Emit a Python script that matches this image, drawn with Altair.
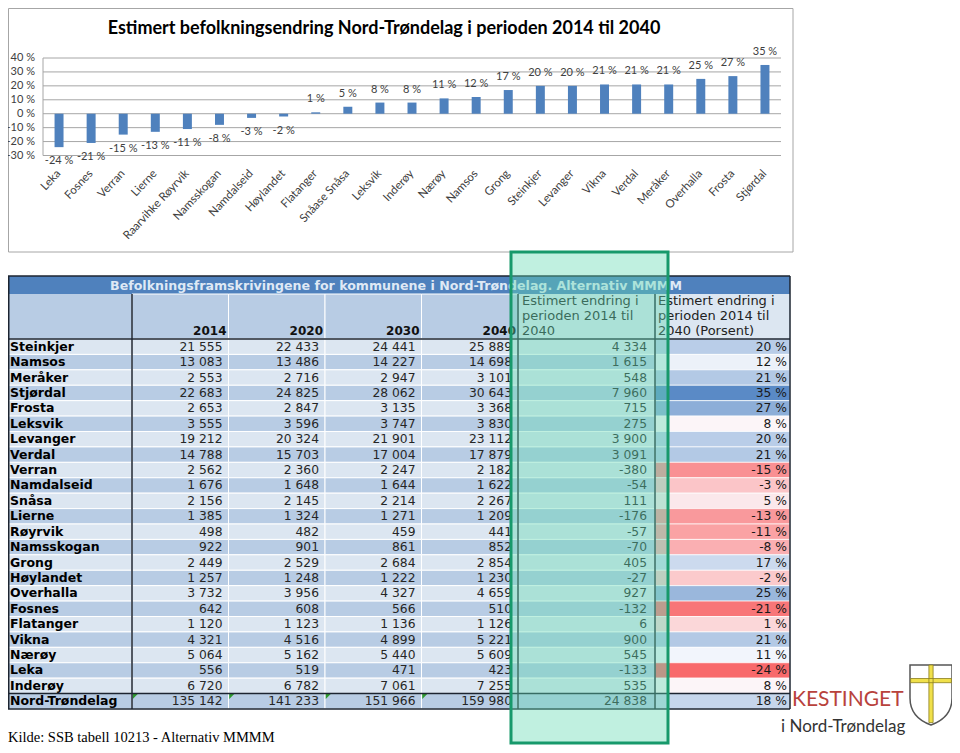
import altair as alt
import pandas as pd

# ---------------- data: bar chart ----------------
bar_kommuner = ["Leka", "Fosnes", "Verran", "Lierne", "Raarvihke Røyrvik", "Namsskogan",
                "Namdalseid", "Høylandet", "Flatanger", "Snåase Snåsa", "Leksvik", "Inderøy",
                "Nærøy", "Namsos", "Grong", "Steinkjer", "Levanger", "Vikna", "Verdal",
                "Meråker", "Overhalla", "Frosta", "Stjørdal"]
bar_pct = [-24, -21, -15, -13, -11, -8, -3, -2, 1, 5, 8, 8, 11, 12, 17, 20, 20, 21, 21, 21, 25, 27, 35]
y_ticks = [40, 30, 20, 10, 0, -10, -20, -30]

# ---------------- data: table ----------------
rows = ["Steinkjer", "Namsos", "Meråker", "Stjørdal", "Frosta", "Leksvik", "Levanger", "Verdal",
        "Verran", "Namdalseid", "Snåsa", "Lierne", "Røyrvik", "Namsskogan", "Grong", "Høylandet",
        "Overhalla", "Fosnes", "Flatanger", "Vikna", "Nærøy", "Leka", "Inderøy", "Nord-Trøndelag"]
years = ["2014", "2020", "2030", "2040"]
pop2014 = [21555, 13083, 2553, 22683, 2653, 3555, 19212, 14788, 2562, 1676, 2156, 1385, 498, 922,
           2449, 1257, 3732, 642, 1120, 4321, 5064, 556, 6720, 135142]
pop2020 = [22433, 13486, 2716, 24825, 2847, 3596, 20324, 15703, 2360, 1648, 2145, 1324, 482, 901,
           2529, 1248, 3956, 608, 1123, 4516, 5162, 519, 6782, 141233]
pop2030 = [24441, 14227, 2947, 28062, 3135, 3747, 21901, 17004, 2247, 1644, 2214, 1271, 459, 861,
           2684, 1222, 4327, 566, 1136, 4899, 5440, 471, 7061, 151966]
pop2040 = [25889, 14698, 3101, 30643, 3368, 3830, 23112, 17879, 2182, 1622, 2267, 1209, 441, 852,
           2854, 1230, 4659, 510, 1126, 5221, 5609, 423, 7255, 159980]
change = [4334, 1615, 548, 7960, 715, 275, 3900, 3091, -380, -54, 111, -176, -57, -70, 405, -27,
          927, -132, 6, 900, 545, -133, 535, 24838]
pct = [20, 12, 21, 35, 27, 8, 20, 21, -15, -3, 5, -13, -11, -8, 17, -2, 25, -21, 1, 21, 11, -24, 8, 18]

# ---------------- texts ----------------
title_chart = "Estimert befolkningsendring Nord-Trøndelag i perioden 2014 til 2040"
title_table = "Befolkningsframskrivingene for kommunene i Nord-Trøndelag. Alternativ MMMM"
header_change = "Estimert endring i\nperioden 2014 til\n2040"
header_pct = "Estimert endring i\nperioden 2014 til\n2040 (Porsent)"
source_text = "Kilde:  SSB tabell 10213 - Alternativ MMMM"
logo_1 = "KESTINGET"
logo_2 = "i Nord-Trøndelag"

# ---------------- styling / layout ----------------
W, H = 944, 737
CAL = "Lato, Liberation Sans, sans-serif"
TAB = "DejaVu Sans, Verdana, sans-serif"
SERIF = "Liberation Serif, Times New Roman, serif"
DARK = "#1c2430"
HALF_BAND = 48.25  # half width of a year column


def fmt(v):
    return f"{v:,}".replace(",", " ")


one = pd.DataFrame({"k": [0]})

# ---------- bar chart ----------
bar_df = pd.DataFrame({"kommune": bar_kommuner, "pct": bar_pct})
bar_df["lbl"] = [f"{v} %" for v in bar_pct]
tick_df = pd.DataFrame({"v": y_ticks, "lbl": [f"{v} %" for v in y_ticks]})

xb = alt.Scale(domain=bar_kommuner, range=[35, 773], paddingInner=0.72, paddingOuter=0.36)
yb = alt.Scale(domain=[-30, 40], range=[147.5, 50], nice=False, zero=False)
X_B = alt.X("kommune:N", scale=xb, axis=None)
Y_B = alt.Y("pct:Q", scale=yb, axis=None)

frame = alt.Chart(one).mark_rect(fill="white", stroke="#a6a6a6", strokeWidth=1).encode(
    x=alt.value(0.5), x2=alt.value(785), y=alt.value(0.5), y2=alt.value(244))

title = alt.Chart(one).mark_text(font=CAL, fontSize=18, fontWeight="bold", color="black",
                                 align="center", baseline="middle").encode(
    x=alt.value(376), y=alt.value(21), text=alt.value(title_chart))

grid = alt.Chart(tick_df).mark_rule(color="#a6a6a6", strokeWidth=1).encode(
    y=alt.Y("v:Q", scale=yb, axis=None), x=alt.value(35), x2=alt.value(773))

axis_line = alt.Chart(pd.DataFrame({"a": [40], "b": [-30]})).mark_rule(color="#a6a6a6").encode(
    x=alt.value(35), y=alt.Y("a:Q", scale=yb, axis=None), y2="b:Q")

ylabels = alt.Chart(tick_df).mark_text(font=CAL, fontSize=11, color="#404040", align="right",
                                       baseline="middle").encode(
    y=alt.Y("v:Q", scale=yb, axis=None), x=alt.value(27), text="lbl:N")

bars = alt.Chart(bar_df).mark_bar(color="#4f81bd").encode(x=X_B, y=Y_B)

pos_lbl = alt.Chart(bar_df).transform_filter("datum.pct > 0").mark_text(
    font=CAL, fontSize=11, color="#404040", baseline="middle", dy=-13).encode(
    x=X_B, y=Y_B, text="lbl:N")
neg_lbl = alt.Chart(bar_df).transform_filter("datum.pct < 0").mark_text(
    font=CAL, fontSize=11, color="#404040", baseline="middle", dy=14).encode(
    x=X_B, y=Y_B, text="lbl:N")

xlabels = alt.Chart(bar_df).mark_text(font=CAL, fontSize=11.5, color="#404040", align="right",
                                      baseline="middle", angle=313).encode(
    x=X_B, y=alt.value(164), text="kommune:N")

# ---------- table ----------
n = len(rows)
tab = pd.DataFrame({"row": rows, "p": pct})
tab["parity"] = ["a" if i % 2 == 0 else "b" for i in range(n)]
tab["plbl"] = [f"{v} %" for v in pct]
tab["clbl"] = [fmt(v) for v in change]

long_rows = []
for i, r in enumerate(rows):
    for y, vals in zip(years, [pop2014, pop2020, pop2030, pop2040]):
        long_rows.append({"row": r, "year": y, "val": fmt(vals[i]),
                          "parity": "a" if i % 2 == 0 else "b"})
long = pd.DataFrame(long_rows)
year_df = pd.DataFrame({"year": years})

row_scale = alt.Scale(domain=rows, range=[331, 701], paddingInner=0, paddingOuter=0)
year_scale = alt.Scale(domain=years, range=[124, 510], paddingInner=0, paddingOuter=0)
YR = alt.Y("row:N", scale=row_scale, axis=None)
XY = alt.X("year:N", scale=year_scale, axis=None)
PAR = alt.Fill("parity:N", scale=alt.Scale(domain=["a", "b"], range=["#dce6f1", "#b8cce4"]), legend=None)

tbl_title_band = alt.Chart(one).mark_rect(fill="#4f81bd").encode(
    x=alt.value(0), x2=alt.value(782), y=alt.value(268), y2=alt.value(286))
tbl_title = alt.Chart(one).mark_text(font=TAB, fontSize=12.6, fontWeight="bold", color="#dfe9f5",
                                     align="center", baseline="middle").encode(
    x=alt.value(388), y=alt.value(277.5), text=alt.value(title_table))

hdr_name = alt.Chart(one).mark_rect(fill="#b8cce4").encode(
    x=alt.value(0), x2=alt.value(124), y=alt.value(286), y2=alt.value(331))
hdr_years = alt.Chart(year_df).mark_rect(fill="#b8cce4", stroke="white", strokeWidth=1).encode(
    x=XY, y=alt.value(286), y2=alt.value(331))
hdr_change = alt.Chart(one).mark_rect(fill="#dce6f1").encode(
    x=alt.value(510), x2=alt.value(647), y=alt.value(286), y2=alt.value(331))
hdr_pct = alt.Chart(one).mark_rect(fill="#dce6f1").encode(
    x=alt.value(647), x2=alt.value(782), y=alt.value(286), y2=alt.value(331))
hdr_year_txt = alt.Chart(year_df).mark_text(font=TAB, fontSize=12, fontWeight="bold", color="#111111",
                                            align="right", baseline="alphabetic",
                                            dx=HALF_BAND - 2).encode(
    x=XY, y=alt.value(327), text="year:N")
hdr_change_txt = alt.Chart(one).mark_text(font=TAB, fontSize=13, color="#222222", align="left",
                                          baseline="top", lineBreak="\n", lineHeight=15.3).encode(
    x=alt.value(514), y=alt.value(286.5), text=alt.value(header_change))
hdr_pct_txt = alt.Chart(one).mark_text(font=TAB, fontSize=13, color="#222222", align="left",
                                       baseline="top", lineBreak="\n", lineHeight=15.3).encode(
    x=alt.value(650), y=alt.value(286.5), text=alt.value(header_pct))

name_cells = alt.Chart(tab).mark_rect(stroke="white", strokeWidth=1).encode(
    x=alt.value(0), x2=alt.value(124), y=YR, fill=PAR)
name_txt = alt.Chart(tab).mark_text(font=TAB, fontSize=12.5, fontWeight="bold", color="black",
                                    align="left", baseline="middle").encode(
    x=alt.value(2), y=YR, text="row:N")

year_cells = alt.Chart(long).mark_rect(stroke="white", strokeWidth=1).encode(x=XY, y=YR, fill=PAR)
year_txt = alt.Chart(long).mark_text(font=TAB, fontSize=12.3, color="#262626", align="right",
                                     baseline="middle", dx=HALF_BAND - 6).encode(
    x=XY, y=YR, text="val:N")

# small green Excel error-indicator triangles in the total row (pixel-sized custom path)
nt_marks = alt.Chart(long).transform_filter(alt.datum.row == "Nord-Trøndelag").mark_point(
    shape="M -47.5 -7.2 L -42.5 -7.2 L -47.5 -2.2 Z", size=4, filled=True, color="#2e9a2e",
    opacity=1).encode(x=XY, y=YR)

change_cells = alt.Chart(tab).mark_rect(stroke="white", strokeWidth=1).encode(
    x=alt.value(510), x2=alt.value(647), y=YR, fill=PAR)
change_txt = alt.Chart(tab).mark_text(font=TAB, fontSize=12.3, color="#262626", align="right",
                                      baseline="middle").encode(
    x=alt.value(639), y=YR, text="clbl:N")

pct_cells = alt.Chart(tab).mark_rect(stroke="white", strokeWidth=0.7).encode(
    x=alt.value(647), x2=alt.value(782), y=YR,
    fill=alt.Fill("p:Q", scale=alt.Scale(domain=[-24, 9.5, 35], interpolate="rgb",
                                         range=["#f8696b", "#fcfcff", "#5a8ac6"]), legend=None))
pct_txt = alt.Chart(tab).mark_text(font=TAB, fontSize=12.3, color="#1a1a1a", align="right",
                                   baseline="middle").encode(
    x=alt.value(779), y=YR, text="plbl:N")


def hline(y, x0, x1, w=1.5):
    return alt.Chart(one).mark_rule(color=DARK, strokeWidth=w).encode(
        y=alt.value(y), x=alt.value(x0), x2=alt.value(x1))


def vline(x, y0, y1, w=1.5):
    return alt.Chart(one).mark_rule(color=DARK, strokeWidth=w).encode(
        x=alt.value(x), y=alt.value(y0), y2=alt.value(y1))


lines = [
    hline(268, 0, 782), hline(331, 0, 782), hline(685.6, 0, 782), hline(701, 0, 782),
    vline(0.75, 268, 701), vline(124, 286, 701), vline(510, 286, 701), vline(647, 286, 701),
    vline(782, 268, 701),
]

overlay = alt.Chart(one).mark_rect(fill="#61d9b1", fillOpacity=0.4, stroke="#17996b",
                                   strokeWidth=3).encode(
    x=alt.value(503), x2=alt.value(660), y=alt.value(244), y2=alt.value(735))

source = alt.Chart(one).mark_text(font=SERIF, fontSize=14.5, color="black", align="left",
                                  baseline="middle").encode(
    x=alt.value(0), y=alt.value(730), text=alt.value(source_text))

logo_a = alt.Chart(one).mark_text(font=CAL, fontSize=21, color="#b8423c", align="left",
                                  baseline="alphabetic").encode(
    x=alt.value(784), y=alt.value(698), text=alt.value(logo_1))
logo_b = alt.Chart(one).mark_text(font=CAL, fontSize=17, color="#333333", align="left",
                                  baseline="alphabetic").encode(
    x=alt.value(773), y=alt.value(724), text=alt.value(logo_2))
shield = alt.Chart(one).mark_point(
    shape="M -0.7 -1 L 0.7 -1 L 0.7 0.1 Q 0.7 0.75 0 1 Q -0.7 0.75 -0.7 0.1 Z",
    size=3600, filled=True, fill="white", stroke="#555555", strokeWidth=1.5, opacity=1).encode(
    x=alt.value(923), y=alt.value(687))
cross = alt.Chart(one).mark_point(
    shape="M -0.07 -1 L 0.07 -1 L 0.07 0.92 L -0.07 0.92 Z M -0.68 -0.55 L 0.68 -0.55 L 0.68 -0.41 L -0.68 -0.41 Z",
    size=3600, filled=True, fill="#f0e04a", stroke="#8a7d1e", strokeWidth=0.8, opacity=1).encode(
    x=alt.value(923), y=alt.value(687))

layers = [frame, title, grid, axis_line, ylabels, bars, pos_lbl, neg_lbl, xlabels,
          tbl_title_band, tbl_title, hdr_name, hdr_years, hdr_change, hdr_pct,
          name_cells, year_cells, change_cells, pct_cells, nt_marks,
          hdr_year_txt, hdr_change_txt, hdr_pct_txt, name_txt, year_txt, change_txt, pct_txt,
          *lines, overlay, source, logo_a, logo_b, shield, cross]

chart = alt.layer(*layers).resolve_scale(
    x="independent", y="independent", fill="independent", color="independent"
).properties(
    width=W, height=H, padding=0, background="white",
    autosize=alt.AutoSizeParams(type="none")
).configure_view(stroke=None)

chart.save("out.html", embed_options={"renderer": "svg", "actions": False})
